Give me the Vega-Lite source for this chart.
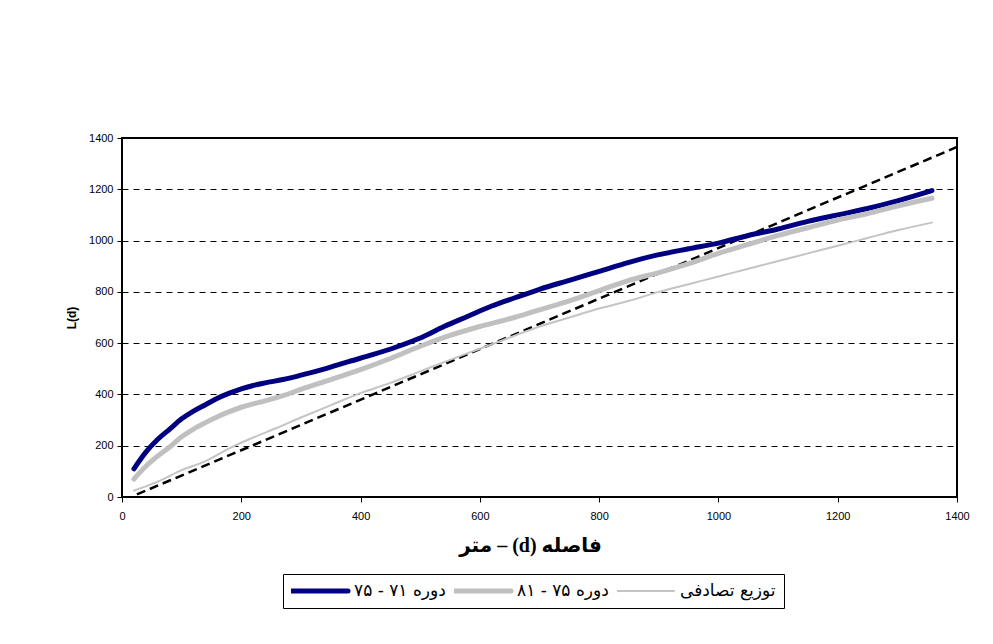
{
  "$schema": "https://vega.github.io/schema/vega-lite/v6.json",
  "width": 835,
  "height": 359,
  "autosize": {"type": "none"},
  "padding": {"left": 122, "top": 138, "right": 36, "bottom": 147},
  "background": "white",
  "config": {
    "view": {"stroke": "black", "strokeWidth": 2},
    "font": "Liberation Sans"
  },
  "datasets": {
    "series": [
      {"series": "دوره ۷۱ - ۷۵", "d": 20, "L": 110},
      {"series": "دوره ۷۱ - ۷۵", "d": 40, "L": 175},
      {"series": "دوره ۷۱ - ۷۵", "d": 60, "L": 225},
      {"series": "دوره ۷۱ - ۷۵", "d": 80, "L": 265},
      {"series": "دوره ۷۱ - ۷۵", "d": 100, "L": 305},
      {"series": "دوره ۷۱ - ۷۵", "d": 120, "L": 335},
      {"series": "دوره ۷۱ - ۷۵", "d": 140, "L": 360},
      {"series": "دوره ۷۱ - ۷۵", "d": 160, "L": 385},
      {"series": "دوره ۷۱ - ۷۵", "d": 180, "L": 405},
      {"series": "دوره ۷۱ - ۷۵", "d": 200, "L": 422},
      {"series": "دوره ۷۱ - ۷۵", "d": 220, "L": 435},
      {"series": "دوره ۷۱ - ۷۵", "d": 240, "L": 445},
      {"series": "دوره ۷۱ - ۷۵", "d": 270, "L": 458},
      {"series": "دوره ۷۱ - ۷۵", "d": 300, "L": 475},
      {"series": "دوره ۷۱ - ۷۵", "d": 340, "L": 500},
      {"series": "دوره ۷۱ - ۷۵", "d": 380, "L": 528},
      {"series": "دوره ۷۱ - ۷۵", "d": 420, "L": 555},
      {"series": "دوره ۷۱ - ۷۵", "d": 460, "L": 585},
      {"series": "دوره ۷۱ - ۷۵", "d": 500, "L": 620},
      {"series": "دوره ۷۱ - ۷۵", "d": 540, "L": 665},
      {"series": "دوره ۷۱ - ۷۵", "d": 580, "L": 705},
      {"series": "دوره ۷۱ - ۷۵", "d": 620, "L": 745},
      {"series": "دوره ۷۱ - ۷۵", "d": 660, "L": 778},
      {"series": "دوره ۷۱ - ۷۵", "d": 700, "L": 810},
      {"series": "دوره ۷۱ - ۷۵", "d": 750, "L": 845},
      {"series": "دوره ۷۱ - ۷۵", "d": 800, "L": 880},
      {"series": "دوره ۷۱ - ۷۵", "d": 850, "L": 915},
      {"series": "دوره ۷۱ - ۷۵", "d": 900, "L": 945},
      {"series": "دوره ۷۱ - ۷۵", "d": 950, "L": 968},
      {"series": "دوره ۷۱ - ۷۵", "d": 1000, "L": 990},
      {"series": "دوره ۷۱ - ۷۵", "d": 1050, "L": 1020},
      {"series": "دوره ۷۱ - ۷۵", "d": 1100, "L": 1045},
      {"series": "دوره ۷۱ - ۷۵", "d": 1150, "L": 1075},
      {"series": "دوره ۷۱ - ۷۵", "d": 1200, "L": 1100},
      {"series": "دوره ۷۱ - ۷۵", "d": 1250, "L": 1125},
      {"series": "دوره ۷۱ - ۷۵", "d": 1300, "L": 1155},
      {"series": "دوره ۷۱ - ۷۵", "d": 1358, "L": 1195},
      {"series": "دوره ۷۵ - ۸۱", "d": 20, "L": 70},
      {"series": "دوره ۷۵ - ۸۱", "d": 40, "L": 120},
      {"series": "دوره ۷۵ - ۸۱", "d": 60, "L": 160},
      {"series": "دوره ۷۵ - ۸۱", "d": 80, "L": 195},
      {"series": "دوره ۷۵ - ۸۱", "d": 100, "L": 235},
      {"series": "دوره ۷۵ - ۸۱", "d": 120, "L": 265},
      {"series": "دوره ۷۵ - ۸۱", "d": 140, "L": 290},
      {"series": "دوره ۷۵ - ۸۱", "d": 160, "L": 313},
      {"series": "دوره ۷۵ - ۸۱", "d": 180, "L": 333},
      {"series": "دوره ۷۵ - ۸۱", "d": 200, "L": 350},
      {"series": "دوره ۷۵ - ۸۱", "d": 220, "L": 363},
      {"series": "دوره ۷۵ - ۸۱", "d": 240, "L": 375},
      {"series": "دوره ۷۵ - ۸۱", "d": 270, "L": 395},
      {"series": "دوره ۷۵ - ۸۱", "d": 300, "L": 420},
      {"series": "دوره ۷۵ - ۸۱", "d": 350, "L": 458},
      {"series": "دوره ۷۵ - ۸۱", "d": 400, "L": 497},
      {"series": "دوره ۷۵ - ۸۱", "d": 450, "L": 540},
      {"series": "دوره ۷۵ - ۸۱", "d": 500, "L": 588},
      {"series": "دوره ۷۵ - ۸۱", "d": 550, "L": 630},
      {"series": "دوره ۷۵ - ۸۱", "d": 600, "L": 665},
      {"series": "دوره ۷۵ - ۸۱", "d": 650, "L": 695},
      {"series": "دوره ۷۵ - ۸۱", "d": 700, "L": 730},
      {"series": "دوره ۷۵ - ۸۱", "d": 750, "L": 765},
      {"series": "دوره ۷۵ - ۸۱", "d": 800, "L": 805},
      {"series": "دوره ۷۵ - ۸۱", "d": 850, "L": 845},
      {"series": "دوره ۷۵ - ۸۱", "d": 900, "L": 875},
      {"series": "دوره ۷۵ - ۸۱", "d": 950, "L": 910},
      {"series": "دوره ۷۵ - ۸۱", "d": 1000, "L": 950},
      {"series": "دوره ۷۵ - ۸۱", "d": 1050, "L": 985},
      {"series": "دوره ۷۵ - ۸۱", "d": 1100, "L": 1020},
      {"series": "دوره ۷۵ - ۸۱", "d": 1150, "L": 1050},
      {"series": "دوره ۷۵ - ۸۱", "d": 1200, "L": 1080},
      {"series": "دوره ۷۵ - ۸۱", "d": 1250, "L": 1105},
      {"series": "دوره ۷۵ - ۸۱", "d": 1300, "L": 1135},
      {"series": "دوره ۷۵ - ۸۱", "d": 1358, "L": 1165},
      {"series": "توزیع تصادفی", "d": 20, "L": 25},
      {"series": "توزیع تصادفی", "d": 60, "L": 60},
      {"series": "توزیع تصادفی", "d": 100, "L": 105},
      {"series": "توزیع تصادفی", "d": 140, "L": 140},
      {"series": "توزیع تصادفی", "d": 180, "L": 190},
      {"series": "توزیع تصادفی", "d": 220, "L": 232},
      {"series": "توزیع تصادفی", "d": 260, "L": 270},
      {"series": "توزیع تصادفی", "d": 300, "L": 310},
      {"series": "توزیع تصادفی", "d": 350, "L": 358},
      {"series": "توزیع تصادفی", "d": 400, "L": 405},
      {"series": "توزیع تصادفی", "d": 450, "L": 445},
      {"series": "توزیع تصادفی", "d": 500, "L": 490},
      {"series": "توزیع تصادفی", "d": 550, "L": 535},
      {"series": "توزیع تصادفی", "d": 600, "L": 578},
      {"series": "توزیع تصادفی", "d": 650, "L": 622},
      {"series": "توزیع تصادفی", "d": 700, "L": 665},
      {"series": "توزیع تصادفی", "d": 750, "L": 700},
      {"series": "توزیع تصادفی", "d": 800, "L": 735},
      {"series": "توزیع تصادفی", "d": 850, "L": 765},
      {"series": "توزیع تصادفی", "d": 900, "L": 800},
      {"series": "توزیع تصادفی", "d": 950, "L": 830},
      {"series": "توزیع تصادفی", "d": 1000, "L": 860},
      {"series": "توزیع تصادفی", "d": 1050, "L": 890},
      {"series": "توزیع تصادفی", "d": 1100, "L": 920},
      {"series": "توزیع تصادفی", "d": 1150, "L": 950},
      {"series": "توزیع تصادفی", "d": 1200, "L": 980},
      {"series": "توزیع تصادفی", "d": 1250, "L": 1010},
      {"series": "توزیع تصادفی", "d": 1300, "L": 1040},
      {"series": "توزیع تصادفی", "d": 1358, "L": 1070}
    ],
    "diag": [
      {"d": 25, "L": 10},
      {"d": 1400, "L": 1365}
    ]
  },
  "layer": [
    {
      "data": {"name": "diag"},
      "mark": {"type": "line", "color": "black", "strokeDash": [9, 5], "strokeWidth": 2.5, "clip": true},
      "encoding": {
        "x": {"field": "d", "type": "quantitative"},
        "y": {"field": "L", "type": "quantitative"}
      }
    },
    {
      "data": {"name": "series"},
      "mark": {"type": "line", "interpolate": "monotone", "strokeCap": "round"},
      "encoding": {
        "x": {
          "field": "d",
          "type": "quantitative",
          "scale": {"domain": [0, 1400], "nice": false},
          "axis": {
            "values": [0, 200, 400, 600, 800, 1000, 1200, 1400],
            "format": "d",
            "grid": false,
            "domain": true,
            "domainColor": "black",
            "domainWidth": 1,
            "ticks": true,
            "tickColor": "black",
            "tickSize": 5,
            "labelPadding": 8,
            "labelFont": "Liberation Sans",
            "labelFontSize": 11,
            "labelColor": "black",
            "labelFlush": false,
            "title": "\u202Bفاصله (d) – متر\u202C",
            "titleFont": "Liberation Serif, DejaVu Sans",
            "titleFontSize": 20,
            "titleFontWeight": "bold",
            "titleColor": "black",
            "titlePadding": 14,
            "titleX": 408
          }
        },
        "y": {
          "field": "L",
          "type": "quantitative",
          "scale": {"domain": [0, 1400], "nice": false},
          "axis": {
            "values": [0, 200, 400, 600, 800, 1000, 1200, 1400],
            "format": "d",
            "grid": true,
            "gridColor": "black",
            "gridDash": [6, 5],
            "gridWidth": 1,
            "domain": true,
            "domainColor": "black",
            "ticks": true,
            "tickColor": "black",
            "tickSize": 5,
            "labelPadding": 4,
            "labelFont": "Liberation Sans",
            "labelFontSize": 11,
            "labelColor": "black",
            "labelFlush": false,
            "title": "L(d)",
            "titleFont": "Liberation Sans",
            "titleFontSize": 12,
            "titleFontWeight": "bold",
            "titleColor": "black",
            "titlePadding": 10
          }
        },
        "color": {
          "field": "series",
          "type": "nominal",
          "scale": {
            "domain": ["دوره ۷۱ - ۷۵", "دوره ۷۵ - ۸۱", "توزیع تصادفی"],
            "range": ["#000080", "#c0c0c0", "#c4c4c4"]
          },
          "legend": {
            "title": null,
            "orient": "none",
            "legendX": 161,
            "legendY": 436,
            "direction": "horizontal",
            "symbolType": "stroke",
            "symbolSize": 3249,
            "clipHeight": 18,
            "symbolOffset": 20,
            "labelOffset": 26,
            "strokeColor": "black",
            "padding": 8,
            "columnPadding": 8,
            "labelFont": "DejaVu Sans",
            "labelFontSize": 17,
            "labelColor": "black",
            "labelLimit": 300,
            "encode": {
              "symbols": {
                "update": {
                  "strokeWidth": {"signal": "datum.value == 'توزیع تصادفی' ? 2 : 5"},
                  "strokeCap": {"value": "round"}
                }
              }
            }
          }
        },
        "strokeWidth": {
          "condition": {"test": "datum.series == 'توزیع تصادفی'", "value": 2},
          "value": 5
        }
      }
    }
  ]
}
